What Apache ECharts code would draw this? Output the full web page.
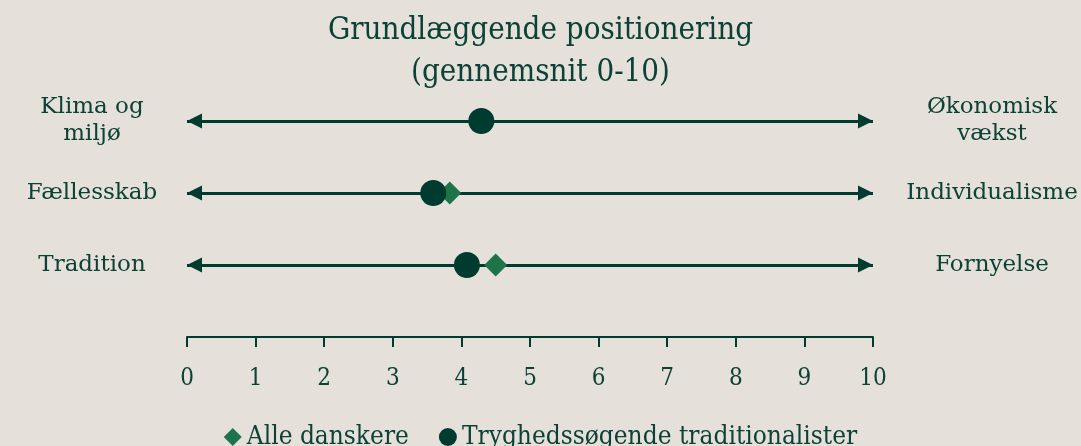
<!DOCTYPE html>
<html>
<head>
<meta charset="utf-8">
<script src="https://cdn.jsdelivr.net/npm/echarts@6/dist/echarts.min.js"></script>
<style>
  html, body { margin: 0; padding: 0; background: #e5e0da; }
  #chart { width: 1081px; height: 446px; }
</style>
</head>
<body>
<div id="chart"></div>
<script>
// venstre og højre ende af hver skala
var leftLabels = ['Klima og\nmiljø', 'Fællesskab', 'Tradition']
var rightLabels = ['Økonomisk\nvækst', 'Individualisme', 'Fornyelse']

// gennemsnit 0-10
var alleDanskere = [4.29, 3.83, 4.50]
var tryghedssoegende = [4.29, 3.59, 4.08]

var xTicks = [0, 1, 2, 3, 4, 5, 6, 7, 8, 9, 10]

var darkGreen = '#003b2f'
var lightGreen = '#1e744a'
var textColor = '#0c4136'
var condensed = '"DejaVu Serif Condensed", "Liberation Serif", serif'
var wide = '"DejaVu Serif", serif'

var myChart = echarts.init(document.getElementById('chart'))

//pile for hver række
var arrows = leftLabels.map(function (l, i) {
    return [{ coord: [xTicks[0], i] }, { coord: [xTicks[xTicks.length - 1], i] }]
})

var option = {
    backgroundColor: '#e5e0da',
    animation: false,
    title: {
        text: 'Grundlæggende positionering\n(gennemsnit 0-10)',
        left: 'center',
        top: 5,
        textStyle: {
            color: textColor,
            fontFamily: condensed,
            fontWeight: 'normal',
            fontSize: 31,
            lineHeight: 42
        }
    },
    legend: {
        top: 419,
        left: 'center',
        itemGap: 30,
        itemWidth: 18,
        itemHeight: 18,
        textStyle: { color: textColor, fontFamily: condensed, fontSize: 26 },
        data: [
            { name: 'Alle danskere', icon: 'diamond' },
            { name: 'Tryghedssøgende traditionalister', icon: 'circle' }
        ]
    },
    grid: { left: 187, right: 208, top: 85, height: 216 },
    xAxis: {
        type: 'value',
        min: 0,
        max: 10,
        interval: 1,
        offset: 36,
        axisLine: { show: true, lineStyle: { color: darkGreen, width: 2 } },
        axisTick: { show: true, length: 10, lineStyle: { color: darkGreen, width: 2 } },
        axisLabel: { color: textColor, fontFamily: condensed, fontSize: 24, margin: 30 },
        splitLine: { show: false }
    },
    yAxis: [
        {
            type: 'category',
            inverse: true,
            data: leftLabels,
            axisLine: { show: false },
            axisTick: { show: false },
            axisLabel: { align: 'center', margin: 95, color: textColor, fontFamily: wide, fontSize: 23, lineHeight: 27, padding: [4, 0, 0, 0] }
        },
        {
            type: 'category',
            inverse: true,
            position: 'right',
            data: rightLabels,
            axisLine: { show: false },
            axisTick: { show: false },
            axisLabel: { align: 'center', margin: 119, color: textColor, fontFamily: wide, fontSize: 23, lineHeight: 27, padding: [4, 0, 0, 0] }
        }
    ],
    series: [
        {
            name: 'Alle danskere',
            type: 'scatter',
            symbol: 'diamond',
            symbolSize: 23,
            itemStyle: { color: lightGreen, opacity: 1 },
            data: alleDanskere.map(function (v, i) { return [v, i] }),
            markLine: {
                silent: true,
                symbol: ['triangle', 'triangle'],
                symbolSize: [15, 15],
                symbolOffset: [[0, 7.5], [0, 7.5]],
                label: { show: false },
                lineStyle: { color: darkGreen, width: 3, type: 'solid' },
                emphasis: { disabled: true },
                data: arrows,
                z: 1
            }
        },
        {
            name: 'Tryghedssøgende traditionalister',
            type: 'scatter',
            symbol: 'circle',
            symbolSize: 26,
            itemStyle: { color: darkGreen, opacity: 1 },
            data: tryghedssoegende.map(function (v, i) { return [v, i] })
        }
    ]
}
myChart.setOption(option)
</script>
</body>
</html>
